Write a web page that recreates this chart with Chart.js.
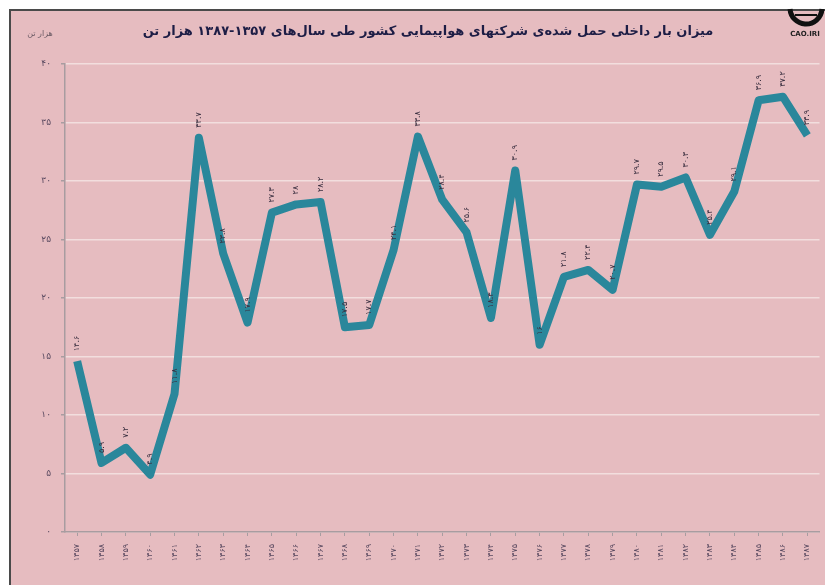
<!DOCTYPE html>
<html lang="fa">
<head>
  <meta charset="UTF-8"/>
  <title>بار داخلی هواپیمایی</title>
  <script src="https://cdn.jsdelivr.net/npm/chart.js"></script>
  <style>
    html, body { margin: 0; padding: 0; background: #fff; }
    #wrap { width: 825px; height: 585px; }
  </style>
</head>
<body>
  <div id="wrap"><canvas id="cargoChart" width="825" height="585"></canvas></div>

  <script>
    // سال‌ها و مقادیر (هزار تن)
    const years = ['۱۳۵۷','۱۳۵۸','۱۳۵۹','۱۳۶۰','۱۳۶۱','۱۳۶۲','۱۳۶۳','۱۳۶۴','۱۳۶۵','۱۳۶۶','۱۳۶۷',
                   '۱۳۶۸','۱۳۶۹','۱۳۷۰','۱۳۷۱','۱۳۷۲','۱۳۷۳','۱۳۷۴','۱۳۷۵','۱۳۷۶','۱۳۷۷','۱۳۷۸',
                   '۱۳۷۹','۱۳۸۰','۱۳۸۱','۱۳۸۲','۱۳۸۳','۱۳۸۴','۱۳۸۵','۱۳۸۶','۱۳۸۷'];
    const cargo = [14.6, 5.9, 7.2, 4.9, 11.8, 33.7, 23.8, 17.9, 27.3, 28.0, 28.2,
                   17.5, 17.7, 24.1, 33.8, 28.4, 25.6, 18.3, 30.9, 16.0, 21.8, 22.4,
                   20.7, 29.7, 29.5, 30.3, 25.4, 29.1, 36.9, 37.2, 33.9];
    const yTicks = [0, 5, 10, 15, 20, 25, 30, 35, 40];

    const chartTitle = 'میزان بار داخلی حمل شده‌ی شرکتهای هواپیمایی کشور طی سال‌های ۱۳۵۷-۱۳۸۷ هزار تن';
    const unitLabel = 'هزار تن';

    const faDigits = '۰۱۲۳۴۵۶۷۸۹';
    function toFa(v) {
      return String(v).replace(/\d/g, d => faDigits[d]);
    }

    const FONT = '"DejaVu Sans", sans-serif';

    // زمینه‌ی صورتی، قاب و عنوان
    const frame = {
      id: 'frame',
      beforeDraw(chart) {
        const c = chart.ctx;
        c.save();
        c.fillStyle = '#ffffff';
        c.fillRect(0, 0, 825, 585);
        c.fillStyle = '#e6bcc0';
        c.fillRect(10, 10, 815, 575);
        c.fillStyle = '#4a4a4a';
        c.fillRect(9, 9, 816, 2);
        c.fillRect(9, 9, 2, 576);
        c.restore();
      },
      afterDraw(chart) {
        const c = chart.ctx;
        c.save();
        c.direction = 'rtl';
        c.textBaseline = 'middle';
        c.fillStyle = '#1d1d45';
        c.font = 'bold 13px ' + FONT;
        c.textAlign = 'center';
        c.fillText(chartTitle, 428, 32);
        c.fillStyle = '#6a5a64';
        c.font = '8px ' + FONT;
        c.fillText(unitLabel, 40, 34);

        // لوگو
        c.direction = 'ltr';
        c.strokeStyle = '#111';
        c.lineWidth = 5;
        c.beginPath();
        c.arc(806, 8, 16, 0.02 * Math.PI, 0.98 * Math.PI);
        c.stroke();
        c.lineWidth = 2;
        c.beginPath();
        c.moveTo(795, 15); c.lineTo(817, 15);
        c.stroke();
        c.fillStyle = '#222';
        c.font = 'bold 7px ' + FONT;
        c.fillText('CAO.IRI', 805, 34);
        c.restore();
      }
    };

    // برچسب مقدار روی هر نقطه
    const valueLabels = {
      id: 'valueLabels',
      afterDatasetsDraw(chart) {
        const c = chart.ctx;
        const meta = chart.getDatasetMeta(0);
        c.save();
        c.fillStyle = '#3b3040';
        c.font = '8px ' + FONT;
        c.textAlign = 'left';
        c.textBaseline = 'middle';
        meta.data.forEach((pt, i) => {
          const v = cargo[i];
          const txt = toFa(Number.isInteger(v) ? v : v.toFixed(1));
          c.save();
          c.translate(pt.x, pt.y - 10);
          c.rotate(-Math.PI / 2);
          c.fillText(txt, 0, 0);
          c.restore();
        });
        c.restore();
      }
    };

    new Chart(document.getElementById('cargoChart'), {
      type: 'line',
      data: {
        labels: years,
        datasets: [{
          data: cargo,
          borderColor: '#2a879b',
          borderWidth: 8,
          borderJoinStyle: 'round',
          borderCapStyle: 'butt',
          tension: 0,
          pointRadius: 0,
          fill: false
        }]
      },
      options: {
        responsive: false,
        animation: false,
        layout: { padding: { top: 64, right: 4, left: 0, bottom: 0 } },
        plugins: { legend: { display: false }, tooltip: { enabled: false } },
        scales: {
          x: {
            offset: true,
            afterFit(s) { s.height = 53; },
            grid: { display: true, drawOnChartArea: false, color: '#a89ca0', tickLength: 4 },
            border: { color: '#a89ca0', width: 1.5 },
            ticks: {
              color: '#5a4a60',
              font: { family: FONT, size: 8 },
              minRotation: 90,
              maxRotation: 90,
              autoSkip: false,
              padding: 8
            }
          },
          y: {
            min: 0,
            max: 40,
            afterFit(s) { s.width = 65; },
            afterBuildTicks(s) { s.ticks = yTicks.map(v => ({ value: v })); },
            grid: { color: '#f2dede', lineWidth: 1.5, tickLength: 4, tickColor: '#a89ca0' },
            border: { color: '#a89ca0', width: 1.5 },
            ticks: {
              color: '#5a4a60',
              font: { family: FONT, size: 9 },
              padding: 10,
              callback: v => toFa(v)
            }
          }
        }
      },
      plugins: [frame, valueLabels]
    });
  </script>
</body>
</html>
